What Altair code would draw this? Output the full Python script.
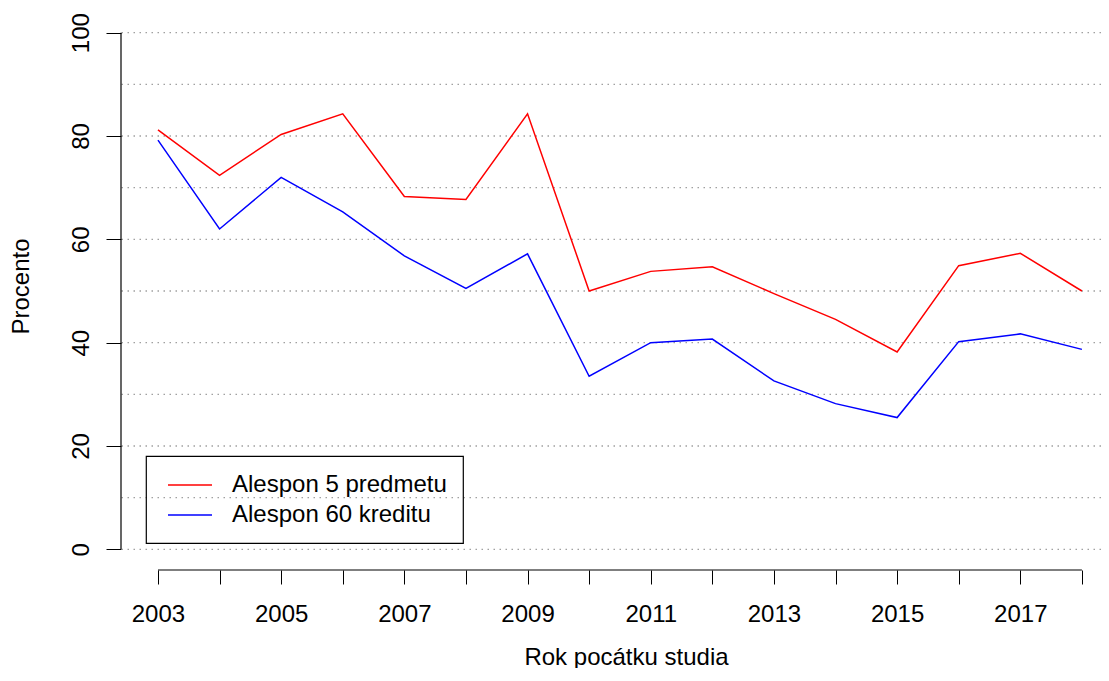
import altair as alt
import pandas as pd

years = list(range(2003, 2019))
pet_predmetu = [81.2, 72.4, 80.3, 84.3, 68.3, 67.7, 84.3, 50.0, 53.8, 54.7,
                49.5, 44.5, 38.2, 54.9, 57.3, 50.0]
sedesat_kreditu = [79.2, 62.0, 72.0, 65.3, 56.8, 50.5, 57.2, 33.5, 40.0, 40.7,
                   32.6, 28.2, 25.5, 40.2, 41.7, 38.7]
series_names = ["Alespon 5 predmetu", "Alespon 60 kreditu"]
series_colors = ["#FF0000", "#0000FF"]
grid_values = list(range(0, 101, 10))
y_ticks = [0, 20, 40, 60, 80, 100]

FONT = "Liberation Sans"

rows = []
for y, a, b in zip(years, pet_predmetu, sedesat_kreditu):
    rows.append({"rok": y, "procento": a, "serie": series_names[0]})
    rows.append({"rok": y, "procento": b, "serie": series_names[1]})
df = pd.DataFrame(rows)
grid_df = pd.DataFrame({"g": grid_values})
yline_df = pd.DataFrame({"y0": [y_ticks[0]], "y1": [y_ticks[-1]]})
xline_df = pd.DataFrame({"x0": [years[0]], "x1": [years[-1]]})

x_scale = alt.Scale(domain=[2002.4, 2018.31], nice=False, zero=False)
y_scale = alt.Scale(domain=[-4, 104], nice=False, zero=False)

x_axis = alt.Axis(
    values=years, format="d",
    labelExpr="datum.value % 2 == 1 ? datum.label : ''",
    domain=False, grid=False, ticks=True, tickSize=14, tickColor="black", tickWidth=1,
    labelBaseline="alphabetic", labelPadding=37, labelAlign="center", labelAngle=0,
    labelFontSize=24, labelColor="black", labelFont=FONT, labelOverlap=False, labelFlush=False,
    title="Rok pocátku studia", titleBaseline="alphabetic", titleAlign="center",
    titleX=505, titleY=94, titleFontSize=24, titleFontWeight="normal",
    titleColor="black", titleFont=FONT,
)
y_axis = alt.Axis(
    values=y_ticks, domain=False, grid=False, ticks=True, tickSize=15,
    tickColor="black", tickWidth=1,
    labelAngle=270, labelAlign="center", labelBaseline="alphabetic", labelPadding=18,
    labelFontSize=24, labelColor="black", labelFont=FONT, labelOverlap=False, labelFlush=False,
    title="Procento", titleAngle=270, titleBaseline="alphabetic", titleAlign="center",
    titleX=-93, titleY=274, titleFontSize=24, titleFontWeight="normal",
    titleColor="black", titleFont=FONT,
)

grid = alt.Chart(grid_df).mark_rule(
    color="#a0a0a0", strokeDash=[1.5, 4.5], strokeWidth=1.3
).encode(y=alt.Y("g:Q", scale=y_scale, axis=y_axis))

yline = alt.Chart(yline_df).mark_rule(color="black", strokeWidth=1.2).encode(
    x=alt.value(0),
    y=alt.Y("y0:Q", scale=y_scale, axis=y_axis),
    y2="y1:Q",
)
xline = alt.Chart(xline_df).mark_rule(color="black", strokeWidth=1.2).encode(
    x=alt.X("x0:Q", scale=x_scale, axis=x_axis),
    x2="x1:Q",
    y=alt.value(558),
)

lines = alt.Chart(df).mark_line(strokeWidth=1.5).encode(
    x=alt.X("rok:Q", scale=x_scale, axis=x_axis),
    y=alt.Y("procento:Q", scale=y_scale, axis=y_axis),
    color=alt.Color(
        "serie:N",
        scale=alt.Scale(domain=series_names, range=series_colors),
        legend=alt.Legend(
            title=None, orient="none", legendX=25, legendY=444,
            strokeColor="black", padding=16,
            labelFontSize=24, labelFont=FONT, labelColor="black", labelLimit=500,
            symbolType="M-0.583,0H3.083", symbolSize=576, symbolStrokeWidth=1.5,
            labelOffset=44, rowPadding=5, direction="vertical",
        ),
    ),
)

chart = alt.layer(grid, yline, xline, lines).properties(
    width=980, height=558,
    padding={"left": 113, "top": 4, "right": 0, "bottom": 98},
    autosize=alt.AutoSizeParams(type="none"),
).configure(font=FONT).configure_view(stroke=None).configure_legend(strokeWidth=1.2)

chart.save("out.html", embed_options={"renderer": "svg", "actions": False})
